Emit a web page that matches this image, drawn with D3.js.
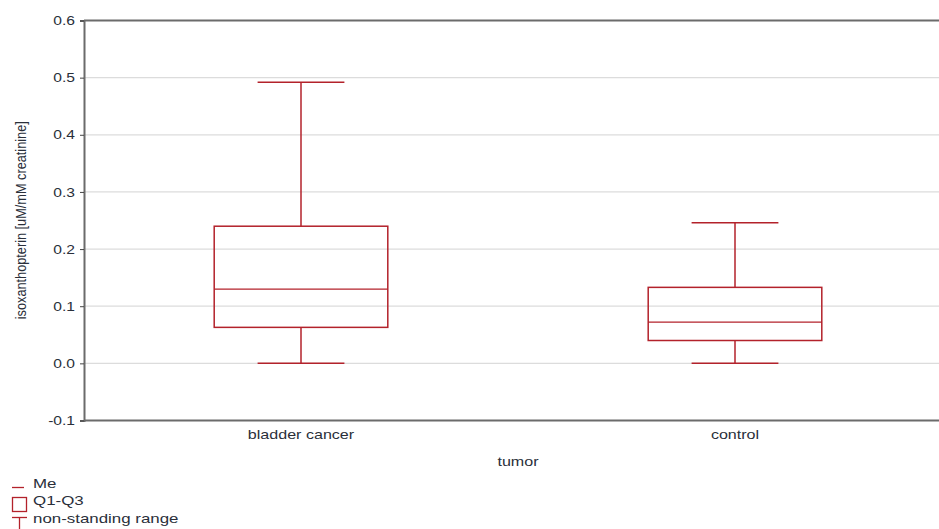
<!DOCTYPE html>
<html>
<head>
<meta charset="utf-8">
<script src="https://cdn.jsdelivr.net/npm/d3@7"></script>
<style>
  html, body { margin: 0; padding: 0; background: #fff; }
  svg { display: block; font-family: "Liberation Sans", Arial, sans-serif; }
</style>
</head>
<body>
<svg id="chart" width="939" height="529"></svg>
<script>
// Box plot data: isoxanthopterin per group
const categories = ["bladder cancer", "control"];
const whiskerLow  = [0.0, 0.0];
const q1          = [0.063, 0.040];
const median      = [0.130, 0.072];
const q3          = [0.240, 0.133];
const whiskerHigh = [0.492, 0.246];
const yTicks = [-0.1, 0.0, 0.1, 0.2, 0.3, 0.4, 0.5, 0.6];

const svg = d3.select("#chart");
const margin = { left: 84, top: 20.5, right: -13, bottom: 109 };
const W = 939, H = 529;
const x0 = margin.left, x1 = W - margin.right;
const y0 = H - margin.bottom, y1 = margin.top;

const x = d3.scaleBand().domain(categories).range([x0, x1]);
const y = d3.scaleLinear().domain([-0.1, 0.6]).range([y0 + 0.5, y1]);

const red = "#b3222b";
const axisGray = "#6b6b6b";
const textColor = "#2a2f3a";

// widen glyphs horizontally (the chart's text uses a wide face)
function stretch(sel, f) {
  sel.each(function () {
    const w = this.getComputedTextLength();
    d3.select(this).attr("textLength", w * f).attr("lengthAdjust", "spacingAndGlyphs");
  });
}

// gridlines
svg.append("g").selectAll("line").data(yTicks.slice(1, -1)).join("line")
  .attr("x1", x0).attr("x2", x1)
  .attr("y1", d => y(d)).attr("y2", d => y(d))
  .attr("stroke", "#dcdcdc").attr("stroke-width", 1.2);

// frame: top and bottom borders
svg.append("line").attr("x1", x0).attr("x2", x1).attr("y1", y(0.6)).attr("y2", y(0.6))
  .attr("stroke", axisGray).attr("stroke-width", 2);
svg.append("line").attr("x1", x0).attr("x2", x1).attr("y1", y(-0.1)).attr("y2", y(-0.1))
  .attr("stroke", axisGray).attr("stroke-width", 2);

// y axis
const yAxis = d3.axisLeft(y).tickValues(yTicks).tickFormat(d => d.toFixed(1))
  .tickSize(4).tickPadding(5);
const gy = svg.append("g").attr("transform", `translate(${x0},0)`).call(yAxis);
gy.select(".domain").attr("stroke", axisGray).attr("stroke-width", 2);
gy.selectAll(".tick line").attr("stroke", "#444");
gy.selectAll(".tick text").attr("fill", textColor).style("font-size", "13px")
  .call(stretch, 1.2);

// x axis labels
const xAxis = d3.axisBottom(x).tickSize(0).tickPadding(9);
const gx = svg.append("g").attr("transform", `translate(0,${y0})`).call(xAxis);
gx.select(".domain").remove();
gx.selectAll(".tick text").attr("fill", textColor).style("font-size", "13.5px")
  .call(stretch, 1.19);

// axis titles
svg.append("text").attr("x", (x0 + x1) / 2).attr("y", 466)
  .attr("text-anchor", "middle").attr("fill", textColor).style("font-size", "13.5px")
  .text("tumor").call(stretch, 1.19);
svg.append("text")
  .attr("transform", `translate(25.5,${(y0 + y1) / 2}) rotate(-90)`)
  .attr("text-anchor", "middle").attr("fill", textColor).style("font-size", "14px")
  .attr("textLength", 198).attr("lengthAdjust", "spacingAndGlyphs")
  .text("isoxanthopterin [uM/mM creatinine]");

// boxes
const data = categories.map((c, i) => ({
  c, lo: whiskerLow[i], q1: q1[i], med: median[i], q3: q3[i], hi: whiskerHigh[i]
}));
const bw = x.bandwidth();
const g = svg.append("g").selectAll("g").data(data).join("g")
  .attr("transform", d => `translate(${x(d.c) + bw / 2},0)`);

g.append("line").attr("x1", 0).attr("x2", 0)
  .attr("y1", d => y(d.hi)).attr("y2", d => y(d.q3))
  .attr("stroke", red).attr("stroke-width", 1.5);
g.append("line").attr("x1", 0).attr("x2", 0)
  .attr("y1", d => y(d.q1)).attr("y2", d => y(d.lo))
  .attr("stroke", red).attr("stroke-width", 1.5);
g.append("line").attr("x1", -bw * 0.1).attr("x2", bw * 0.1)
  .attr("y1", d => y(d.hi)).attr("y2", d => y(d.hi))
  .attr("stroke", red).attr("stroke-width", 1.5);
g.append("line").attr("x1", -bw * 0.1).attr("x2", bw * 0.1)
  .attr("y1", d => y(d.lo)).attr("y2", d => y(d.lo))
  .attr("stroke", red).attr("stroke-width", 1.5);
g.append("rect").attr("x", -bw * 0.2).attr("width", bw * 0.4)
  .attr("y", d => y(d.q3)).attr("height", d => y(d.q1) - y(d.q3))
  .attr("fill", "none").attr("stroke", red).attr("stroke-width", 1.5);
g.append("line").attr("x1", -bw * 0.2).attr("x2", bw * 0.2)
  .attr("y1", d => y(d.med)).attr("y2", d => y(d.med))
  .attr("stroke", red).attr("stroke-width", 1.2);

// legend
const leg = svg.append("g");
const legendItems = ["Me", "Q1-Q3", "non-standing range"];
const legBase = [488, 505, 523];
leg.selectAll("text").data(legendItems).join("text")
  .attr("x", 33).attr("y", (d, i) => legBase[i])
  .attr("fill", textColor).style("font-size", "13.5px").text(d => d)
  .call(stretch, 1.25);
leg.append("line").attr("x1", 12).attr("x2", 24).attr("y1", 487.5).attr("y2", 487.5)
  .attr("stroke", red).attr("stroke-width", 1.3);
leg.append("rect").attr("x", 12.5).attr("y", 497.5).attr("width", 14).attr("height", 14)
  .attr("fill", "none").attr("stroke", red).attr("stroke-width", 1.3);
leg.append("line").attr("x1", 12).attr("x2", 27).attr("y1", 517.5).attr("y2", 517.5)
  .attr("stroke", red).attr("stroke-width", 1.3);
leg.append("line").attr("x1", 19.5).attr("x2", 19.5).attr("y1", 517.5).attr("y2", 529)
  .attr("stroke", red).attr("stroke-width", 1.3);
</script>
</body>
</html>
